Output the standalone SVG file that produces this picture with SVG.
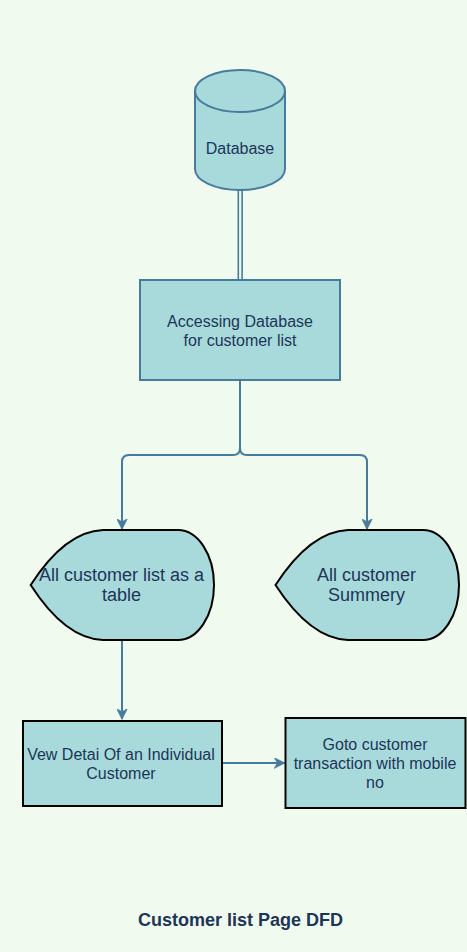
<svg xmlns="http://www.w3.org/2000/svg" width="467" height="952" viewBox="0 0 467 952">
<defs>
<style>
.bg{fill:#F1FAEE}
.shape{fill:#A8DADC;stroke:#457B9D;stroke-width:2}
.dark{fill:#A8DADC;stroke:#000;stroke-width:2}
.edge{fill:none;stroke:#457B9D;stroke-width:2}
.t{font-family:"Liberation Sans",Arial,sans-serif;fill:#1D3557;text-anchor:middle;dominant-baseline:central}
.t16{font-size:16px}
.t18{font-size:18px}
.title{font-family:"Liberation Sans",Arial,sans-serif;fill:#1D3557;text-anchor:middle;dominant-baseline:central;font-size:18px;font-weight:bold}
</style>
<marker id="arrow" viewBox="0 0 10 10" refX="9.5" refY="5" markerWidth="11" markerHeight="11" markerUnits="userSpaceOnUse" orient="auto">
<path d="M0,0 L10,5 L0,10 L3,5 Z" fill="#457B9D" stroke="#457B9D" stroke-width="0.5"/>
</marker>
</defs>
<rect class="bg" x="0" y="0" width="467" height="952"/>
<g id="connectors">
<line x1="238.3" y1="190" x2="238.3" y2="280" stroke="#457B9D" stroke-width="1.6"/>
<line x1="242.1" y1="190" x2="242.1" y2="280" stroke="#457B9D" stroke-width="1.6"/>
<path class="edge" d="M240,380 L240,448 Q240,455 233,455 L129,455 Q122,455 122,462 L122,529" marker-end="url(#arrow)"/>
<path class="edge" d="M240,380 L240,448 Q240,455 247,455 L360,455 Q367,455 367,462 L367,529" marker-end="url(#arrow)"/>
<path class="edge" d="M122,640 L122,719" marker-end="url(#arrow)"/>
<path class="edge" d="M222,763 L284.5,763" marker-end="url(#arrow)"/>
</g>
<g id="database">
<path class="shape" d="M195,91 L195,169 A45,21 0 0 0 285,169 L285,91 A45,21 0 0 0 195,91 Z"/>
<path class="shape" d="M195,91 A45,21 0 0 0 285,91" fill="none"/>
<text class="t t16" x="240" y="148">Database</text>
</g>
<g id="accessing">
<rect class="shape" x="140" y="280" width="200" height="100"/>
<text class="t t16" x="240" y="321.5">Accessing Database</text>
<text class="t t16" x="240" y="340">for customer list</text>
</g>
<g id="customer-list-table">
<path class="dark" d="M30.7,585 C50,555 75,531 103,530 L178,530 A36,55 0 0 1 178,640 L103,640 C75,639 50,615 30.7,585 Z"/>
<text class="t t18" x="121.5" y="575">All customer list as a</text>
<text class="t t18" x="121.5" y="595">table</text>
</g>
<g id="customer-summery">
<path class="dark" d="M275.5,585 C295,555 320,531 348,530 L423,530 A36,55 0 0 1 423,640 L348,640 C320,639 295,615 275.5,585 Z"/>
<text class="t t18" x="366.5" y="575">All customer</text>
<text class="t t18" x="366.5" y="595">Summery</text>
</g>
<g id="view-detail">
<rect class="dark" x="23" y="721" width="199" height="85"/>
<text class="t t16" x="121" y="754">Vew Detai Of an Individual</text>
<text class="t t16" x="121" y="773">Customer</text>
</g>
<g id="goto-transaction">
<rect class="dark" x="285.5" y="718" width="180" height="90"/>
<text class="t t16" x="375" y="744.3">Goto customer</text>
<text class="t t16" x="375" y="763.3">transaction with mobile</text>
<text class="t t16" x="375" y="782.3">no</text>
</g>
<g id="title">
<text class="title" x="240.5" y="920">Customer list Page DFD</text>
</g>
</svg>
